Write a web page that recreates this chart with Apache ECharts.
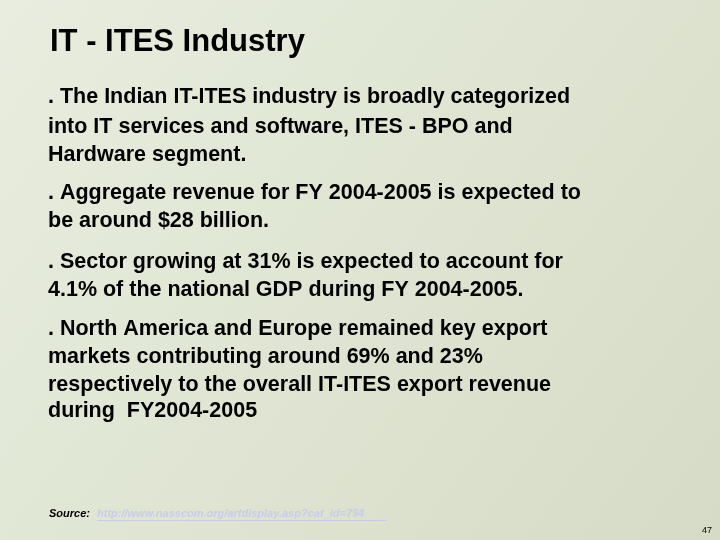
<!DOCTYPE html><html><head><meta charset="utf-8">
<script src="https://cdn.jsdelivr.net/npm/echarts@6/dist/echarts.min.js"></script>
<style>html,body{margin:0;padding:0}#c{width:720px;height:540px}</style></head><body><div id="c"></div>
<script>
const titleText = "IT - ITES Industry";
const bulletLines = [
  ". The Indian IT-ITES industry is broadly categorized",
  "into IT services and software, ITES - BPO and",
  "Hardware segment.",
  ". Aggregate revenue for FY 2004-2005 is expected to",
  "be around $28 billion.",
  ". Sector growing at 31% is expected to account for",
  "4.1% of the national GDP during FY 2004-2005.",
  ". North America and Europe remained key export",
  "markets contributing around 69% and 23%",
  "respectively to the overall IT-ITES export revenue",
  "during  FY2004-2005"
];
const lineY = [97,127,155,193,221,262,290,329,357,385,411];
const sourceLabel = "Source: ";
const sourceUrl = "http://www.nasscom.org/artdisplay.asp?cat_id=794";
const pageNum = "47";

const chart = echarts.init(document.getElementById('c'));
const F = '"Liberation Sans", Arial, sans-serif';
const els = [
  {type:'rect',shape:{x:0,y:0,width:720,height:540},silent:true,
   style:{fill:new echarts.graphic.LinearGradient(0,0,1,1,[{offset:0,color:'#e8eddf'},{offset:0.5,color:'#dfe5d2'},{offset:1,color:'#d5dbc6'}])}},
  {type:'text',x:50,y:42,style:{text:titleText,font:'bold 31px '+F,fill:'#000',textVerticalAlign:'middle',
   textShadowColor:'rgba(120,120,120,0.6)',textShadowOffsetX:2,textShadowOffsetY:2,textShadowBlur:0}}
];
bulletLines.forEach((t,i)=>els.push({type:'text',x:48,y:lineY[i],
  style:{text:t,font:'bold 21.5px '+F,fill:'#000',textVerticalAlign:'middle'}}));
els.push({type:'text',x:49,y:514,style:{text:sourceLabel,font:'italic bold 11px '+F,fill:'#000',textVerticalAlign:'middle'}});
els.push({type:'text',x:97,y:514,style:{text:sourceUrl,font:'italic bold 11px '+F,fill:'#c8cce8',textVerticalAlign:'middle'}});
els.push({type:'rect',shape:{x:97,y:520,width:290,height:1},style:{fill:'#c8cce8'}});
els.push({type:'text',x:712,y:531,style:{text:pageNum,font:'9px '+F,fill:'#000',textAlign:'right',textVerticalAlign:'middle'}});
chart.setOption({animation:false,graphic:{elements:els}});
</script></body></html>
